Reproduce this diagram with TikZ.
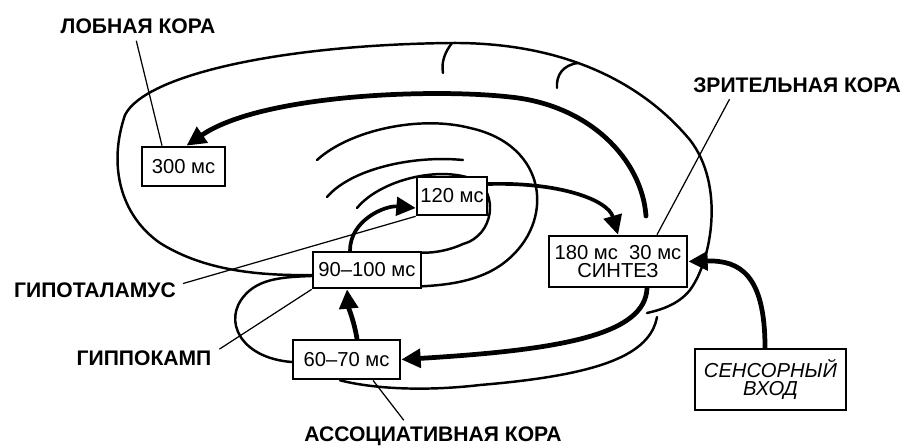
\documentclass[tikz,border=0pt]{standalone}
\usepackage{fontspec}
\setmainfont{Liberation Sans}
\usetikzlibrary{arrows.meta}
\pgfdeclarelayer{nodelayer}
\pgfdeclarelayer{edgelayer}
\pgfsetlayers{edgelayer,nodelayer,main}
\tikzstyle{time box}=[fill=white, draw=black, shape=rectangle, line width=1.5pt, inner sep=0pt, align=center, font=\fontsize{11.5}{10.5}\selectfont]
\tikzstyle{input box}=[time box, font=\fontsize{11.5}{10.5}\selectfont\itshape]
\tikzstyle{area label}=[fill=none, draw=none, inner sep=1pt, font=\fontsize{12}{13}\selectfont\bfseries]
\tikzstyle{signal edge}=[draw=black, line width=2.7pt, line cap=round, -{Triangle[length=11pt, width=10.5pt]}]
\tikzstyle{signal edge 0}=[signal edge, line width=2.1pt]
\tikzstyle{leader edge}=[draw=black, line width=0.7pt]
\tikzstyle{contour}=[draw=black, line width=1.4pt, line cap=round]

\begin{document}
\begin{tikzpicture}
	\useasboundingbox (0, 0) rectangle (18.14, 8.92);
	\begin{pgfonlayer}{nodelayer}
		\node [style=time box, minimum width=1.66cm, minimum height=0.78cm] (0) at (3.67, 5.59) {300 мс};
		\node [style=time box, minimum width=2.16cm, minimum height=0.72cm] (1) at (7.34, 3.52) {90–100 мс};
		\node [style=time box, minimum width=1.40cm, minimum height=0.76cm] (2) at (9.04, 5.00) {120 мс};
		\node [style=time box, minimum width=2.14cm, minimum height=0.78cm] (3) at (6.93, 1.73) {60–70 мс};
		\node [style=time box, minimum width=2.76cm, minimum height=1.02cm] (4) at (12.36, 3.69) {180 мс\ \ 30 мс\\СИНТЕЗ};
		\node [style=input box, minimum width=3.02cm, minimum height=1.22cm] (5) at (15.41, 1.33) {СЕНСОРНЫЙ\\ВХОД};
		\node [style=area label] (6) at (2.76, 8.40) {ЛОБНАЯ КОРА};
		\node [style=area label] (7) at (15.94, 7.22) {ЗРИТЕЛЬНАЯ КОРА};
		\node [style=area label] (8) at (1.90, 3.12) {ГИПОТАЛАМУС};
		\node [style=area label] (9) at (2.88, 1.76) {ГИППОКАМП};
		\node [style=area label] (10) at (8.66, 0.20) {АССОЦИАТИВНАЯ КОРА};
	\end{pgfonlayer}
	\begin{pgfonlayer}{edgelayer}
		% brain outline
		\draw [style=contour] ([yshift=-0.1cm]1.west) .. controls (5.00, 3.40) and (4.00, 3.56) .. (3.20, 4.06)
			.. controls (2.40, 4.62) and (2.16, 5.62) .. (2.50, 6.62)
			.. controls (2.90, 7.42) and (5.60, 8.02) .. (9.00, 8.06)
			.. controls (11.20, 8.08) and (12.80, 7.32) .. (13.80, 6.12)
			.. controls (14.50, 5.22) and (14.24, 3.72) .. (13.80, 3.12)
			.. controls (13.56, 2.82) and (13.20, 2.72) .. (12.94, 2.66);
		\draw [style=contour] (13.14, 2.58) .. controls (13.00, 1.82) and (12.00, 1.42) .. (9.60, 1.22)
			.. controls (8.40, 1.08) and (7.40, 1.16) .. ([xshift=-0.13cm]3.south);
		\draw [style=contour] ([yshift=-0.05cm]3.west) .. controls (4.80, 1.76) and (4.44, 2.52) .. (4.90, 3.02)
			.. controls (5.20, 3.36) and (5.70, 3.38) .. ([yshift=-0.12cm]1.west);
		\draw [style=contour] (6.34, 5.72) .. controls (7.00, 6.32) and (8.40, 6.62) .. (9.40, 6.36)
			.. controls (10.96, 6.02) and (11.12, 4.48) .. (10.10, 3.68)
			.. controls (9.60, 3.28) and (8.90, 3.22) .. ([yshift=0.06cm]1.south east);
		\draw [style=contour] (6.54, 4.98) .. controls (7.00, 5.52) and (8.20, 5.82) .. (9.26, 5.72);
		\draw [style=contour] (7.14, 4.76) .. controls (7.60, 5.32) and (8.80, 5.62) .. (9.50, 5.32)
			.. controls (9.96, 5.08) and (9.90, 4.22) .. (9.26, 4.04)
			.. controls (9.00, 3.92) and (8.70, 3.86) .. ([yshift=-0.04cm]1.north east);
		\draw [style=contour] (9.04, 8.06) .. controls (8.90, 7.88) and (8.82, 7.68) .. (8.86, 7.46);
		\draw [style=contour] (11.56, 7.66) .. controls (11.26, 7.62) and (11.12, 7.42) .. (11.14, 7.16);
		% signals
		\coordinate (a) at (12.92, 4.60);
		\draw [style=signal edge] (a) .. controls (12.84, 5.72) and (11.80, 6.82) .. (10.20, 6.98)
			.. controls (8.60, 7.16) and (5.20, 7.02) .. ([xshift=0.06cm]0.north);
		\draw [style=signal edge] ([xshift=0.58cm]4.south) .. controls (12.90, 2.22) and (11.20, 1.92) .. (3.east);
		\draw [style=signal edge] ([xshift=0.21cm]3.north) to [out=100, in=-85] ([xshift=-0.4cm]1.south);
		\draw [style=signal edge 0] ([xshift=-0.34cm]1.north) to [out=90, in=175] ([yshift=-0.24cm]2.west);
		\draw [style=signal edge 0] ([yshift=0.24cm]2.east) .. controls (11.20, 5.28) and (12.16, 4.92) .. (4.north);
		\draw [style=signal edge] ([xshift=-0.11cm]5.north) .. controls (15.30, 3.42) and (14.80, 3.72) .. (4.east);
		% leaders
		\draw [style=leader edge, shorten <=3pt] ([xshift=-0.06cm]6.south) -- ([xshift=-0.43cm]0.north);
		\draw [style=leader edge, shorten <=3pt] ([xshift=-1.3cm]7.south) -- ([xshift=0.78cm]4.north);
		\draw [style=leader edge, shorten <=3pt] ([yshift=0.1cm]8.east) -- (2.south west);
		\draw [style=leader edge, shorten <=4pt] ([yshift=0.1cm]9.east) -- (1.south west);
		\draw [style=leader edge, shorten <=3pt] ([xshift=-0.52cm]10.north) -- ([xshift=0.53cm]3.south);
	\end{pgfonlayer}
\end{tikzpicture}
\end{document}
